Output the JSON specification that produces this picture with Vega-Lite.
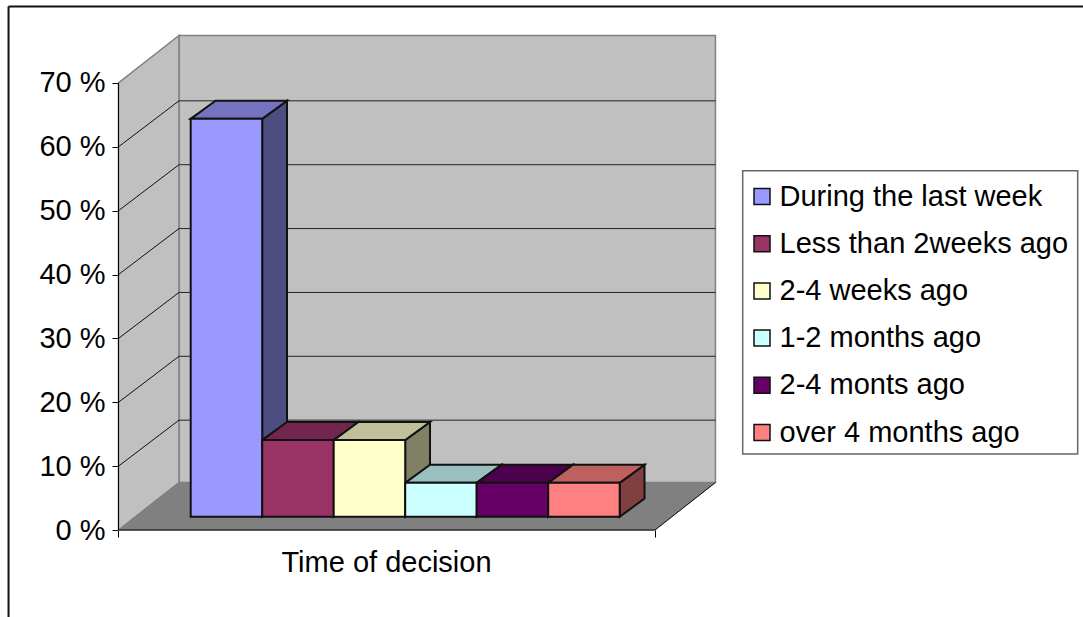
{
  "$schema": "https://vega.github.io/schema/vega-lite/v6.json",
  "width": 1083,
  "height": 617,
  "padding": 0,
  "autosize": {"type": "none"},
  "background": "white",
  "view": {"stroke": null},
  "config": {"font": "Liberation Sans"},
  "data": {"values": [{}]},
  "params": [
    {"name": "dx", "value": 0.846},
    {"name": "dy", "value": 7.44},
    {"name": "floorWidth", "value": 7.503},
    {"name": "wallTop", "value": 70},
    {"name": "gridLift", "value": 7.2},
    {"name": "barNear", "value": 0.28},
    {"name": "barFar", "value": 0.69},
    {"name": "barFarY", "value": 0.661},
    {"name": "barStart", "value": 0.773}
  ],
  "datasets": {
    "bars": [
      {"series": "During the last week", "order": 0, "share": 62.3},
      {"series": "Less than 2weeks ago", "order": 1, "share": 12},
      {"series": "2-4 weeks ago", "order": 2, "share": 12},
      {"series": "1-2 months ago", "order": 3, "share": 5.3},
      {"series": "2-4 monts ago", "order": 4, "share": 5.3},
      {"series": "over 4 months ago", "order": 5, "share": 5.3}
    ],
    "depths": [{"d": 0}, {"d": 1}],
    "gridTicks": [{"tick": 10}, {"tick": 20}, {"tick": 30}, {"tick": 40}, {"tick": 50}, {"tick": 60}]
  },
  "layer": [
    {
      "description": "Outer frame, left edge",
      "mark": {"type": "rule", "stroke": "#111111", "strokeWidth": 2},
      "encoding": {
        "x": {"datum": -1.538, "type": "quantitative", "scale": {"domain": [-1.6573, 13.4895], "nice": false, "zero": false},
          "axis": {"orient": "bottom", "offset": -87, "values": [0, 7.503], "grid": false, "domain": false, "labels": false, "tickSize": 7, "tickColor": "#000000", "title": "Time of decision", "titleFont": "Liberation Sans", "titleFontSize": 29, "titleFontWeight": "normal", "titleColor": "#000000", "titleX": 386, "titleY": 41, "titleAlign": "center", "titleBaseline": "alphabetic"}},
        "y": {"datum": 81.97, "type": "quantitative", "scale": {"domain": [-13.62, 82.99], "nice": false, "zero": false},
          "axis": {"orient": "left", "offset": -118.5, "values": [0, 10, 20, 30, 40, 50, 60, 70], "grid": false, "domain": false, "tickSize": 6.5, "tickColor": "#000000", "labelFont": "Liberation Sans", "labelFontSize": 29, "labelColor": "#000000", "labelPadding": 7, "labelExpr": "datum.value + ' %'", "title": null}},
        "y2": {"datum": -13.62}
      }
    },
    {
      "description": "Outer frame, top edge",
      "mark": {"type": "rule", "stroke": "#111111", "strokeWidth": 2},
      "encoding": {
        "x": {"datum": -1.538, "type": "quantitative"},
        "x2": {"datum": 13.4895},
        "y": {"datum": 81.97, "type": "quantitative"}
      }
    },
    {
      "description": "Legend box",
      "mark": {"type": "rect", "fill": "white", "stroke": "#666666", "strokeWidth": 1.5},
      "encoding": {
        "x": {"datum": 8.73, "type": "quantitative"},
        "x2": {"datum": 13.415},
        "y": {"datum": 56.26, "type": "quantitative"},
        "y2": {"datum": 11.9}
      }
    },
    {
      "description": "Back wall",
      "mark": {"type": "rect", "fill": "#C0C0C0", "stroke": "#808080", "strokeWidth": 1.5},
      "encoding": {
        "x": {"datum": 0.846, "type": "quantitative"},
        "x2": {"datum": 8.349},
        "y": {"datum": 7.44, "type": "quantitative"},
        "y2": {"datum": 77.44}
      }
    },
    {
      "description": "Side wall",
      "data": {"name": "depths"},
      "transform": [
        {"calculate": "datum.d * dx", "as": "px"},
        {"calculate": "datum.d * dy", "as": "lo"},
        {"calculate": "wallTop + datum.d * dy", "as": "hi"}
      ],
      "mark": {"type": "area", "fill": "#C0C0C0", "stroke": "#808080", "strokeWidth": 1.5, "opacity": 1},
      "encoding": {
        "x": {"field": "px", "type": "quantitative"},
        "y": {"field": "lo", "type": "quantitative"},
        "y2": {"field": "hi"}
      }
    },
    {
      "description": "Floor",
      "data": {"name": "depths"},
      "transform": [
        {"calculate": "datum.d * dx", "as": "px"},
        {"calculate": "floorWidth + datum.d * dx", "as": "px2"},
        {"calculate": "datum.d * dy", "as": "py"}
      ],
      "mark": {"type": "area", "orient": "horizontal", "fill": "#808080", "stroke": "#808080", "strokeWidth": 1, "opacity": 1},
      "encoding": {
        "y": {"field": "py", "type": "quantitative"},
        "x": {"field": "px", "type": "quantitative"},
        "x2": {"field": "px2"}
      }
    },
    {
      "description": "Gridlines across the back wall",
      "data": {"name": "gridTicks"},
      "transform": [
        {"calculate": "datum.tick + gridLift", "as": "py"},
        {"calculate": "dx", "as": "px"},
        {"calculate": "dx + floorWidth", "as": "px2"}
      ],
      "mark": {"type": "rule", "stroke": "#222222", "strokeWidth": 1},
      "encoding": {
        "x": {"field": "px", "type": "quantitative"},
        "x2": {"field": "px2"},
        "y": {"field": "py", "type": "quantitative"}
      }
    },
    {
      "description": "Gridlines running up the side wall",
      "data": {"name": "gridTicks"},
      "transform": [
        {"calculate": "datum.tick + gridLift", "as": "py2"},
        {"calculate": "0", "as": "px"},
        {"calculate": "dx", "as": "px2"}
      ],
      "mark": {"type": "rule", "stroke": "#111111", "strokeWidth": 1},
      "encoding": {
        "x": {"field": "px", "type": "quantitative"},
        "x2": {"field": "px2"},
        "y": {"field": "tick", "type": "quantitative"},
        "y2": {"field": "py2"}
      }
    },
    {
      "description": "Right face of each bar",
      "data": {"name": "bars"},
      "transform": [
        {"calculate": "[0, 1]", "as": "end"},
        {"flatten": ["end"]},
        {"calculate": "barStart + datum.order + 1 + (datum.end ? barFar : barNear) * dx", "as": "px"},
        {"calculate": "(datum.end ? barFarY : barNear) * dy", "as": "lo"},
        {"calculate": "datum.share + (datum.end ? barFarY : barNear) * dy", "as": "hi"}
      ],
      "mark": {"type": "area", "stroke": "#111111", "strokeWidth": 2, "opacity": 1},
      "encoding": {
        "x": {"field": "px", "type": "quantitative"},
        "y": {"field": "lo", "type": "quantitative"},
        "y2": {"field": "hi"},
        "color": {
          "field": "series", "type": "nominal", "legend": null,
          "scale": {
            "domain": ["During the last week", "Less than 2weeks ago", "2-4 weeks ago", "1-2 months ago", "2-4 monts ago", "over 4 months ago"],
            "range": ["#4D4D80", "#4D1A33", "#808066", "#668080", "#330033", "#804040"]
          }
        }
      }
    },
    {
      "description": "Top face of each bar",
      "data": {"name": "bars"},
      "transform": [
        {"calculate": "[0, 1]", "as": "end"},
        {"flatten": ["end"]},
        {"calculate": "barStart + datum.order + (datum.end ? barFar : barNear) * dx", "as": "px"},
        {"calculate": "barStart + datum.order + 1 + (datum.end ? barFar : barNear) * dx", "as": "px2"},
        {"calculate": "datum.share + (datum.end ? barFarY : barNear) * dy", "as": "py"}
      ],
      "mark": {"type": "area", "orient": "horizontal", "stroke": "#111111", "strokeWidth": 2, "opacity": 1},
      "encoding": {
        "y": {"field": "py", "type": "quantitative"},
        "x": {"field": "px", "type": "quantitative"},
        "x2": {"field": "px2"},
        "color": {
          "field": "series", "type": "nominal", "legend": null,
          "scale": {
            "domain": ["During the last week", "Less than 2weeks ago", "2-4 weeks ago", "1-2 months ago", "2-4 monts ago", "over 4 months ago"],
            "range": ["#7373BF", "#73264D", "#BFBF99", "#99BFBF", "#4D004D", "#BF6060"]
          }
        }
      }
    },
    {
      "description": "Front face of each bar, which also carries the legend",
      "data": {"name": "bars"},
      "transform": [
        {"calculate": "barStart + datum.order + barNear * dx", "as": "px"},
        {"calculate": "barStart + datum.order + 1 + barNear * dx", "as": "px2"},
        {"calculate": "barNear * dy", "as": "lo"},
        {"calculate": "datum.share + barNear * dy", "as": "hi"}
      ],
      "mark": {"type": "rect", "stroke": "#111111", "strokeWidth": 2},
      "encoding": {
        "x": {"field": "px", "type": "quantitative"},
        "x2": {"field": "px2"},
        "y": {"field": "lo", "type": "quantitative"},
        "y2": {"field": "hi"},
        "color": {
          "field": "series", "type": "nominal",
          "scale": {
            "domain": ["During the last week", "Less than 2weeks ago", "2-4 weeks ago", "1-2 months ago", "2-4 monts ago", "over 4 months ago"],
            "range": ["#9999FF", "#993366", "#FFFFCC", "#CCFFFF", "#660066", "#FF8080"]
          },
          "legend": {
            "orient": "none", "legendX": 747.5, "legendY": 182, "title": null,
            "padding": 0,
            "symbolType": "square", "symbolSize": 256, "symbolStrokeColor": "#111111", "symbolStrokeWidth": 1.5,
            "labelFont": "Liberation Sans", "labelFontSize": 29, "labelColor": "#000000", "labelOffset": 3, "labelLimit": 320,
            "rowPadding": 17.2
          }
        }
      }
    },
    {
      "description": "Vertical axis line",
      "mark": {"type": "rule", "stroke": "#000000", "strokeWidth": 1},
      "encoding": {
        "x": {"datum": 0, "type": "quantitative"},
        "y": {"datum": 0, "type": "quantitative"},
        "y2": {"datum": 70}
      }
    },
    {
      "description": "Front edge of the floor",
      "mark": {"type": "rule", "stroke": "#000000", "strokeWidth": 1},
      "encoding": {
        "x": {"datum": 0, "type": "quantitative"},
        "x2": {"datum": 7.503},
        "y": {"datum": 0, "type": "quantitative"}
      }
    },
    {
      "description": "Right edge of the floor",
      "mark": {"type": "rule", "stroke": "#111111", "strokeWidth": 1},
      "encoding": {
        "x": {"datum": 7.503, "type": "quantitative"},
        "x2": {"datum": 8.349},
        "y": {"datum": 0, "type": "quantitative"},
        "y2": {"datum": 7.44}
      }
    }
  ],
  "resolve": {"scale": {"color": "independent"}}
}
